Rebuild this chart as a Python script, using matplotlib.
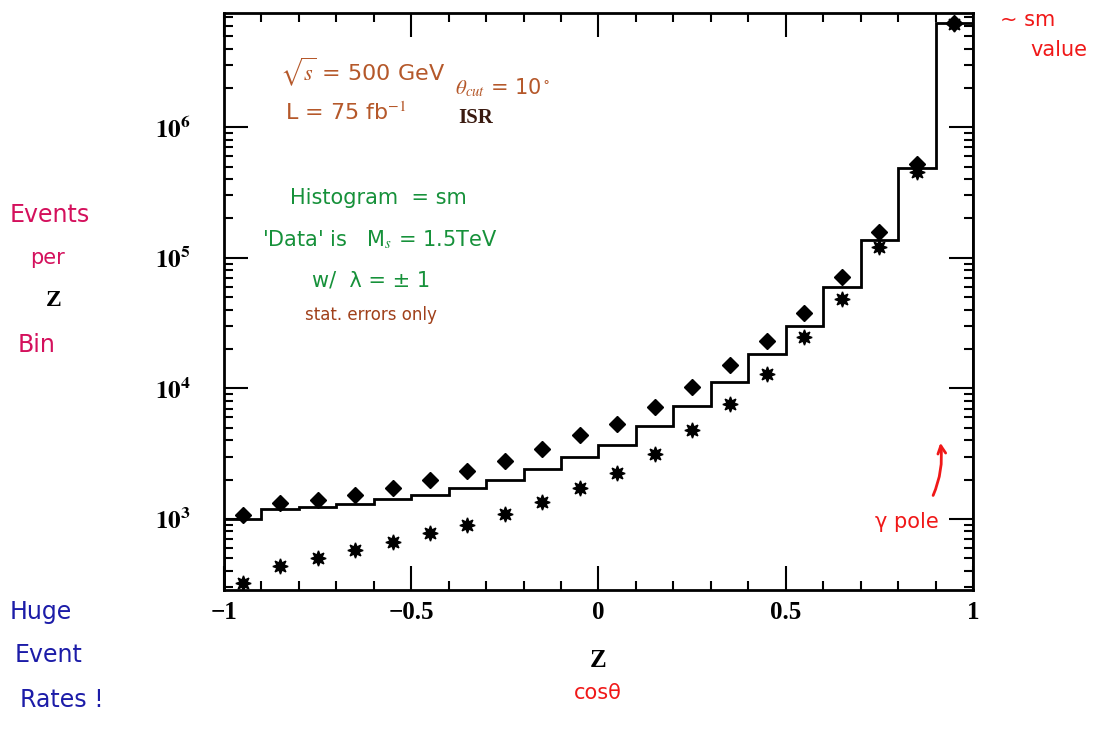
import numpy as np
import matplotlib
matplotlib.use("Agg")
import matplotlib.pyplot as plt
from matplotlib.ticker import LogLocator, FuncFormatter, MultipleLocator, NullFormatter

# bin edges in z = cos(theta), 20 bins of 0.1
edges = np.round(np.arange(-1.0, 1.01, 0.1), 2)
centers = (edges[:-1] + edges[1:]) / 2

# SM histogram (events per bin)
sm = [1000, 1200, 1235, 1310, 1410, 1520, 1710, 1980, 2390, 2990,
      3700, 5130, 7300, 11200, 18200, 30200, 59300, 137000, 487000, 6.3e6]
# 'Data' with M_s = 1.5 TeV, lambda = +1 (diamonds)
data_plus = [1070, 1330, 1400, 1530, 1720, 1980, 2320, 2770, 3430, 4380,
             5370, 7220, 10200, 15100, 23100, 37800, 70800, 158000, 525000, 6.3e6]
# lambda = -1 (asterisks)
data_minus = [320, 437, 500, 582, 667, 773, 896, 1080, 1350, 1730,
              2250, 3160, 4780, 7530, 12800, 24500, 48400, 120000, 453000, 6.2e6]

x_labels = {-1.0: "\u22121", -0.5: "\u22120.5", 0.0: "0", 0.5: "0.5", 1.0: "1"}

plt.rcParams["mathtext.fontset"] = "stix"

fig = plt.figure(figsize=(11.04, 7.46), dpi=100)
ax = fig.add_axes([0.2029, 0.2091, 0.6784, 0.7735])

ax.stairs(sm, edges, color="black", linewidth=2)
ax.plot(centers, data_plus, linestyle="none", marker="D", markersize=8, color="black")
ax.plot(centers, data_minus, linestyle="none", marker=(8, 1, 0), markersize=11, color="black")

ax.set_xlim(-1, 1)
ax.set_yscale("log")
ax.set_ylim(285, 7.5e6)

ax.xaxis.set_major_locator(MultipleLocator(0.5))
ax.xaxis.set_minor_locator(MultipleLocator(0.1))
ax.xaxis.set_major_formatter(FuncFormatter(lambda v, p: x_labels.get(round(v, 1), "")))
ax.yaxis.set_major_locator(LogLocator(base=10, numticks=10))
ax.yaxis.set_minor_locator(LogLocator(base=10, subs=np.arange(2, 10), numticks=20))
ax.yaxis.set_minor_formatter(NullFormatter())
ax.yaxis.set_major_formatter(FuncFormatter(lambda v, p: r"$\mathbf{10^{%d}}$" % round(np.log10(v))))

ax.tick_params(which="both", direction="in", top=True, right=True, width=1.5, colors="black")
ax.tick_params(which="major", length=17)
ax.tick_params(which="minor", length=6.5)
ax.tick_params(axis="x", labelsize=18, pad=8)
ax.tick_params(axis="y", labelsize=18, pad=24)
for lab in ax.get_xticklabels():
    lab.set_fontweight("bold")
    lab.set_family("Liberation Serif")
for s in ax.spines.values():
    s.set_linewidth(2)

ax.set_xlabel("Z", fontsize=18, fontweight="bold", family="Liberation Serif", labelpad=18)

# handwritten-style annotations
brown = "#b5582a"
green = "#16913a"
red = "#f01818"
mag = "#d4105c"
blue = "#1c1ca8"
hand = "DejaVu Sans"
fig.text(280 / 1104, 1 - 72 / 746, r"$\sqrt{s}$ = 500 GeV", color=brown, fontsize=16, va="center", family=hand)
fig.text(285 / 1104, 1 - 113 / 746, r"L = 75 fb$^{-1}$", color=brown, fontsize=16, va="center", family=hand)
fig.text(455 / 1104, 1 - 88 / 746, r"$\theta_{cut}$ = 10$^\circ$", color=brown, fontsize=15, va="center", family=hand)
fig.text(458 / 1104, 1 - 118 / 746, "ISR", color="#3a1a10", fontsize=15, fontweight="bold", va="center", family="Liberation Serif")
fig.text(290 / 1104, 1 - 198 / 746, "Histogram  = sm", color=green, fontsize=15, va="center", family=hand)
fig.text(262 / 1104, 1 - 240 / 746, r"'Data' is   M$_s$ = 1.5TeV", color=green, fontsize=15, va="center", family=hand)
fig.text(312 / 1104, 1 - 280 / 746, "w/  \u03bb = \u00b1 1", color=green, fontsize=15, va="center", family=hand)
fig.text(305 / 1104, 1 - 315 / 746, "stat. errors only", color="#a0401a", fontsize=12, va="center", family=hand)

fig.text(1000 / 1104, 1 - 20 / 746, "~ sm", color=red, fontsize=15, va="center", family=hand)
fig.text(1030 / 1104, 1 - 50 / 746, "value", color=red, fontsize=15, va="center", family=hand)
fig.text(875 / 1104, 1 - 522 / 746, "\u03b3 pole", color=red, fontsize=15, va="center", family=hand)
fig.text(598 / 1104, 1 - 693 / 746, "cos\u03b8", color=red, fontsize=15, va="center", ha="center", family=hand)
fig.patches.append(matplotlib.patches.FancyArrowPatch(
    (932 / 1104, 1 - 498 / 746), (940 / 1104, 1 - 440 / 746), transform=fig.transFigure,
    arrowstyle="->", mutation_scale=14, color=red, linewidth=2, connectionstyle="arc3,rad=0.15"))

fig.text(10 / 1104, 1 - 215 / 746, "Events", color=mag, fontsize=17, va="center", family=hand)
fig.text(30 / 1104, 1 - 258 / 746, "per", color=mag, fontsize=15, va="center", family=hand)
fig.text(46 / 1104, 1 - 301 / 746, "Z", color="black", fontsize=17, fontweight="bold", va="center", family="Liberation Serif")
fig.text(18 / 1104, 1 - 345 / 746, "Bin", color=mag, fontsize=17, va="center", family=hand)

fig.text(10 / 1104, 1 - 612 / 746, "Huge", color=blue, fontsize=17, va="center", family=hand)
fig.text(15 / 1104, 1 - 655 / 746, "Event", color=blue, fontsize=17, va="center", family=hand)
fig.text(20 / 1104, 1 - 700 / 746, "Rates !", color=blue, fontsize=17, va="center", family=hand)

fig.savefig("out.png", dpi=100)
